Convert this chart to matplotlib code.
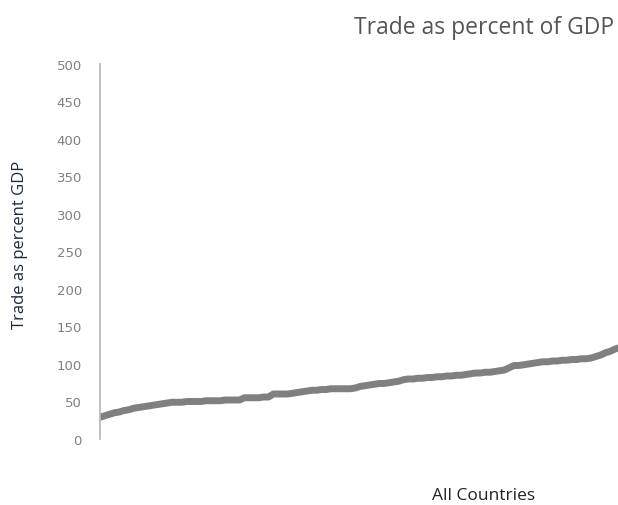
import matplotlib
matplotlib.use("Agg")
import matplotlib.pyplot as plt

# Trade as percent of GDP, countries sorted ascending (left part of the ranking)
trade_pct = [29, 31, 33, 35, 36, 38, 39, 41, 42, 43, 44, 45, 46, 47, 48, 49, 49, 49,
             50, 50, 50, 50, 51, 51, 51, 51, 52, 52, 52, 52, 55, 55, 55, 55, 56, 56,
             60, 60, 60, 60, 61, 62, 63, 64, 65, 65, 66, 66, 67, 67, 67, 67, 67, 68,
             70, 71, 72, 73, 74, 74, 75, 76, 77, 79, 80, 80, 81, 81, 82, 82, 83, 83,
             84, 84, 85, 85, 86, 87, 88, 88, 89, 89, 90, 91, 92, 95, 98, 98, 99, 100,
             101, 102, 103, 103, 104, 104, 105, 105, 106, 106, 107, 107, 108, 110,
             112, 115, 117, 120, 122]
countries = list(range(len(trade_pct)))
yticks = list(range(0, 501, 50))

plt.rcParams["font.family"] = ["Open Sans", "DejaVu Sans"]

W, H = 618, 506
fig = plt.figure(figsize=(W / 100, H / 100), dpi=100)
ax = fig.add_axes([100 / W, 66 / H, 560 / W, 375 / H])

ax.plot(countries, trade_pct, color="#808080", linewidth=5,
        solid_joinstyle="round", solid_capstyle="butt")

ax.set_ylim(0, 500)
ax.set_xlim(0, (len(trade_pct) - 1) * 560 / 520)
ax.set_yticks(yticks)
ax.set_yticklabels([str(v) for v in yticks], family="DejaVu Sans")
ax.set_xticks([])
ax.tick_params(axis="y", length=0, pad=13, labelsize=9.5, labelcolor="#808080")
for side in ("top", "right", "bottom"):
    ax.spines[side].set_visible(False)
ax.spines["left"].set_color("#b5b5b5")
ax.spines["left"].set_linewidth(1.2)
ax.spines["left"].set_bounds(0, 500)

fig.text(20 / W, 1 - 245 / H, "Trade as percent GDP", rotation=90,
         ha="center", va="center", fontsize=12, color="#1f2a3c")
fig.text(484 / W, 1 - 496 / H, "All Countries", ha="center", va="center",
         fontsize=12.5, color="#222222", fontweight="medium")
fig.text(614 / W, 1 - 28 / H, "Trade as percent of GDP", ha="right",
         va="center", fontsize=16.5, color="#555555", fontweight="medium")

fig.savefig("out.png", dpi=100)
